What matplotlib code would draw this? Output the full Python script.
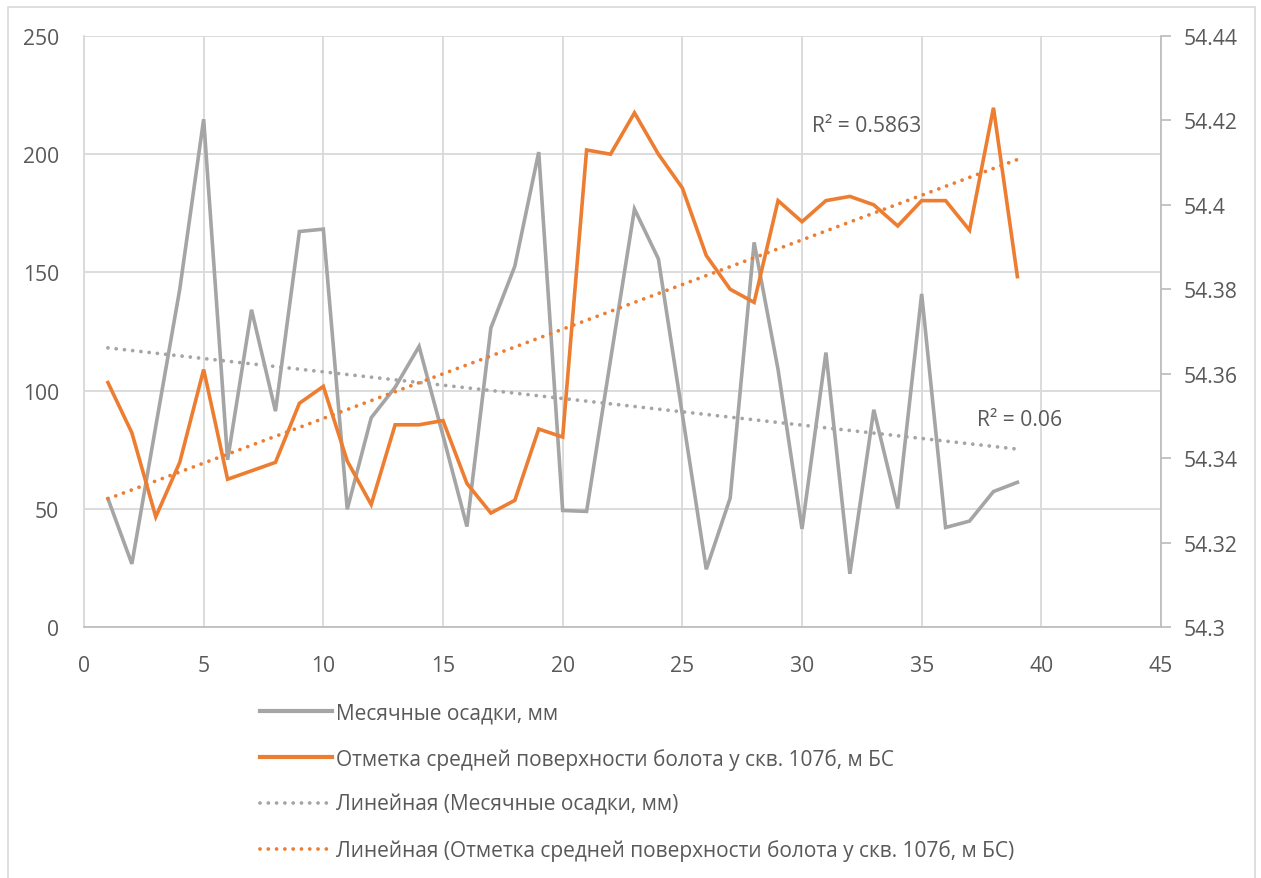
import numpy as np
import matplotlib
matplotlib.use("Agg")
import matplotlib.pyplot as plt
from matplotlib.lines import Line2D
from matplotlib.patches import Rectangle

plt.rcParams['font.family'] = ['Open Sans', 'DejaVu Sans']

# Month index
months = list(range(1, 40))

# Monthly precipitation, mm
precip = [54.3, 26.7, 85, 142.8, 214.8, 70.7, 134.2, 91.3, 167.3, 168.3,
          49.8, 88.5, 101.4, 118.7, 81, 42.5, 126.5, 152.6, 200.9, 49.3,
          48.9, 113, 176.8, 155.7, 90, 24.4, 54.6, 162.7, 108.9, 41.5,
          116.1, 22.5, 91.9, 50.1, 140.9, 42.1, 44.8, 57.3, 61.2]

# Mean bog surface elevation near well 107b, m BS
surface = [54.3579, 54.3460, 54.3261, 54.3390, 54.3610, 54.3350, 54.3370, 54.3390,
           54.3530, 54.3570, 54.3393, 54.3290, 54.3479, 54.3479, 54.3489, 54.3340,
           54.3270, 54.3300, 54.3469, 54.3450, 54.4130, 54.4120, 54.4218, 54.4120,
           54.4040, 54.3880, 54.3800, 54.3769, 54.4010, 54.3960, 54.4010, 54.4020,
           54.4000, 54.3950, 54.4010, 54.4010, 54.3940, 54.4230, 54.3830]

label_precip = "Месячные осадки, мм"
label_surface = "Отметка средней поверхности болота у скв. 107б, м БС"
label_trend_precip = "Линейная (Месячные осадки, мм)"
label_trend_surface = "Линейная (Отметка средней поверхности болота у скв. 107б, м БС)"
r2_precip_text = "R² = 0.06"
r2_surface_text = "R² = 0.5863"

left_ticks = [0, 50, 100, 150, 200, 250]
right_ticks = [54.30, 54.32, 54.34, 54.36, 54.38, 54.40, 54.42, 54.44]
right_tick_labels = ["54.3", "54.32", "54.34", "54.36", "54.38", "54.4", "54.42", "54.44"]
x_ticks = [0, 5, 10, 15, 20, 25, 30, 35, 40, 45]

GRAY = "#A5A5A5"
ORANGE = "#ED7D31"
GRID = "#D9D9D9"
AXIS = "#BFBFBF"
TEXT = "#595959"
FS = 15.2
LEG_FS = 15.0
DOTS = (0, (0.01, 2.2))

W, H = 1261, 879
fig = plt.figure(figsize=(W / 100, H / 100), dpi=100)
fig.patch.set_facecolor("white")

# chart-area border
fig.patches.append(Rectangle((8 / W, -0.02), (1255 - 8) / W, 1 - 8 / H + 0.02,
                             transform=fig.transFigure, fill=False,
                             edgecolor=GRID, linewidth=1.2))

ax1 = fig.add_axes([84 / W, 1 - 628 / H, (1161 - 84) / W, (628 - 37) / H])
ax2 = ax1.twinx()

x = np.array(months, dtype=float)
p = np.array(precip)
s = np.array(surface)

ax1.plot(x, p, color=GRAY, lw=2.6, solid_joinstyle="miter", zorder=3)
k1, b1 = np.polyfit(x, p, 1)
ax1.plot([x[0], x[-1]], [k1 * x[0] + b1, k1 * x[-1] + b1], color=GRAY, lw=2.7,
         linestyle=DOTS, dash_capstyle="round", zorder=4)

ax2.plot(x, s, color=ORANGE, lw=2.6, solid_joinstyle="miter", zorder=3)
k2, b2 = np.polyfit(x, s, 1)
ax2.plot([x[0], x[-1]], [k2 * x[0] + b2, k2 * x[-1] + b2], color=ORANGE, lw=2.7,
         linestyle=DOTS, dash_capstyle="round", zorder=4)

ax1.set_xlim(0, 45)
ax1.set_ylim(0, 250)
ax2.set_ylim(54.30, 54.44)

ax1.set_xticks(x_ticks)
ax1.set_yticks(left_ticks)
ax2.set_yticks(right_ticks)
ax2.set_yticklabels(right_tick_labels)

ax1.grid(True, color=GRID, lw=1.3)
ax1.set_axisbelow(True)

for a in (ax1, ax2):
    for sp in a.spines.values():
        sp.set_visible(False)
ax1.spines["bottom"].set_visible(True)
ax1.spines["bottom"].set_color(AXIS)
ax1.spines["bottom"].set_linewidth(1.3)
ax1.spines["left"].set_visible(True)
ax1.spines["left"].set_color(GRID)
ax1.spines["left"].set_linewidth(1.3)
ax2.spines["right"].set_visible(True)
ax2.spines["right"].set_color(AXIS)
ax2.spines["right"].set_linewidth(1.3)

ax1.tick_params(axis="x", length=0, pad=20, labelsize=FS, labelcolor=TEXT)
ax1.tick_params(axis="y", length=0, pad=18, labelsize=FS, labelcolor=TEXT)
ax2.tick_params(axis="y", length=7, width=1.3, color=AXIS, direction="out",
                pad=9, labelsize=FS, labelcolor=TEXT)

# R² labels next to the trendlines
ax2.annotate(r2_surface_text, xy=(30.4, 54.4187), xycoords="data",
             fontsize=FS, color=TEXT, va="center", ha="left")
ax1.annotate(r2_precip_text, xy=(37.3, 87.6), xycoords="data",
             fontsize=FS, color=TEXT, va="center", ha="left")

handles = [
    Line2D([], [], color=GRAY, lw=3),
    Line2D([], [], color=ORANGE, lw=3),
    Line2D([], [], color=GRAY, lw=2.7, linestyle=DOTS, dash_capstyle="round"),
    Line2D([], [], color=ORANGE, lw=2.7, linestyle=DOTS, dash_capstyle="round"),
]
labels = [label_precip, label_surface, label_trend_precip, label_trend_surface]
leg = fig.legend(handles, labels, loc="upper left", bbox_to_anchor=(252 / W, 1 - 695 / H),
                 frameon=False, fontsize=LEG_FS, handlelength=3.45, handletextpad=0.2,
                 labelspacing=1.17, borderaxespad=0)
for t in leg.get_texts():
    t.set_color(TEXT)

fig.savefig("out.png", dpi=100)
